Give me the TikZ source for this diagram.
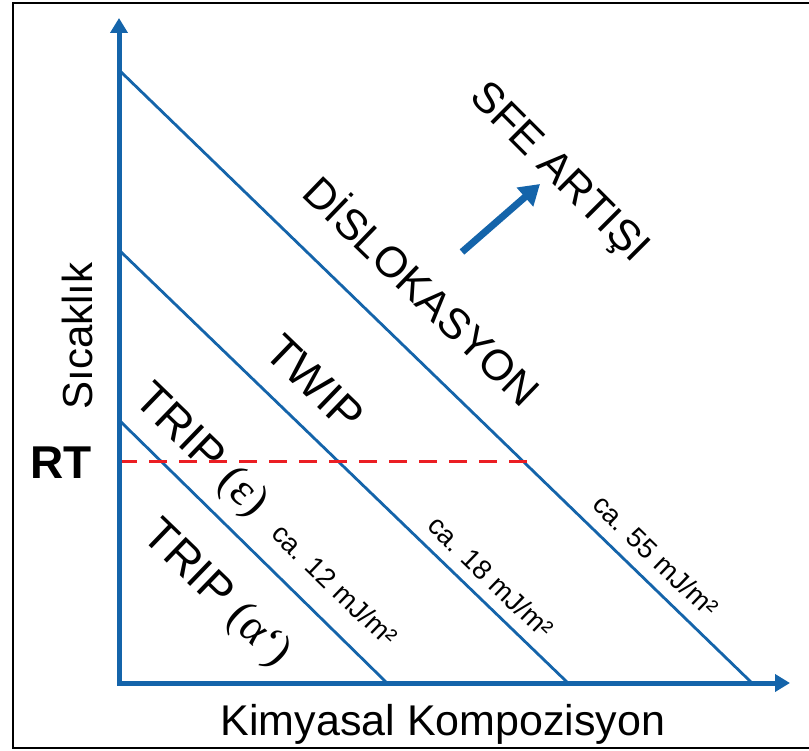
\documentclass[tikz,border=0pt]{standalone}
\usepackage{fontspec}
\setmainfont{Liberation Sans}
\newfontfamily\greekserif{Liberation Serif}
\usetikzlibrary{arrows.meta}
\definecolor{axisblue}{RGB}{20,100,170}
\definecolor{rtred}{RGB}{235,30,35}

\begin{document}
\begin{tikzpicture}[x=1pt,y=-1pt,
  axisline/.style={axisblue, line width=5pt, line join=miter,
    {Triangle[length=15pt,width=17pt]}-{Triangle[length=15pt,width=17pt]}},
  sfeline/.style={axisblue, line width=2.8pt},
  rtline/.style={rtred, line width=3pt, dash pattern=on 18pt off 12pt},
  big/.style={font=\fontsize{43}{47}\selectfont, inner sep=0pt},
  bigger/.style={font=\fontsize{46}{50}\selectfont, inner sep=0pt},
  small/.style={font=\fontsize{27.5}{30}\selectfont, inner sep=0pt},
  diag/.style={rotate=-44},
]
\useasboundingbox (0,0) rectangle (809,751);

% outer frame
\draw[line width=1.5pt] (820,3) -- (13,3) -- (13,748) -- (820,748);

% axis points
\coordinate (O) at (119,683);
\coordinate (ytip) at (119,18);
\coordinate (xtip) at (790,683);

% constant-SFE boundaries
\coordinate (a55) at (119,70);  \coordinate (b55) at (752,683);
\coordinate (a18) at (119,250); \coordinate (b18) at (568,683);
\coordinate (a12) at (119,420); \coordinate (b12) at (387,683);

% room temperature
\coordinate (rt0) at (119,461); \coordinate (rt1) at (527,461);

% SFE arrow
\coordinate (atail) at (462,252); \coordinate (ahead) at (540,184);

\draw[sfeline] (a55) -- (b55);
\draw[sfeline] (a18) -- (b18);
\draw[sfeline] (a12) -- (b12);
\draw[rtline] (rt0) -- (rt1);
\draw[axisline] (ytip) -- (O) -- (xtip);
\draw[axisblue, line width=7pt, -{Triangle[length=20pt,width=24pt]}] (atail) -- (ahead);

% axis labels
\node[font=\fontsize{42}{46}\selectfont, inner sep=0pt, rotate=90] (ylab) at (77,336) {Sıcaklık};
\node[font=\bfseries\fontsize{46}{50}\selectfont, inner sep=0pt] (rt) at (61,463) {RT};
\node[big, anchor=base] (xlab) at (443,735) {Kimyasal Kompozisyon};

% region labels
\node[big, rotate=-45] (sfe) at (558,174) {SFE ARTIŞI};
\node[big, diag] (dis) at (424,289) {DİSLOKASYON};
\node[bigger, diag] (twip) at (315,383) {TWIP};
\node[bigger, diag] (tripe) at (200,452) {TRIP {\greekserif(ε)}};
\node[bigger, diag] (tripa) at (216,595) {TRIP {\greekserif(α‘)}};

% SFE values
\node[small, diag] (e12) at (335,585) {ca. 12 mJ/m²};
\node[small, diag] (e18) at (491,577) {ca. 18 mJ/m²};
\node[small, diag] (e55) at (656,556) {ca. 55 mJ/m²};
\end{tikzpicture}
\end{document}
